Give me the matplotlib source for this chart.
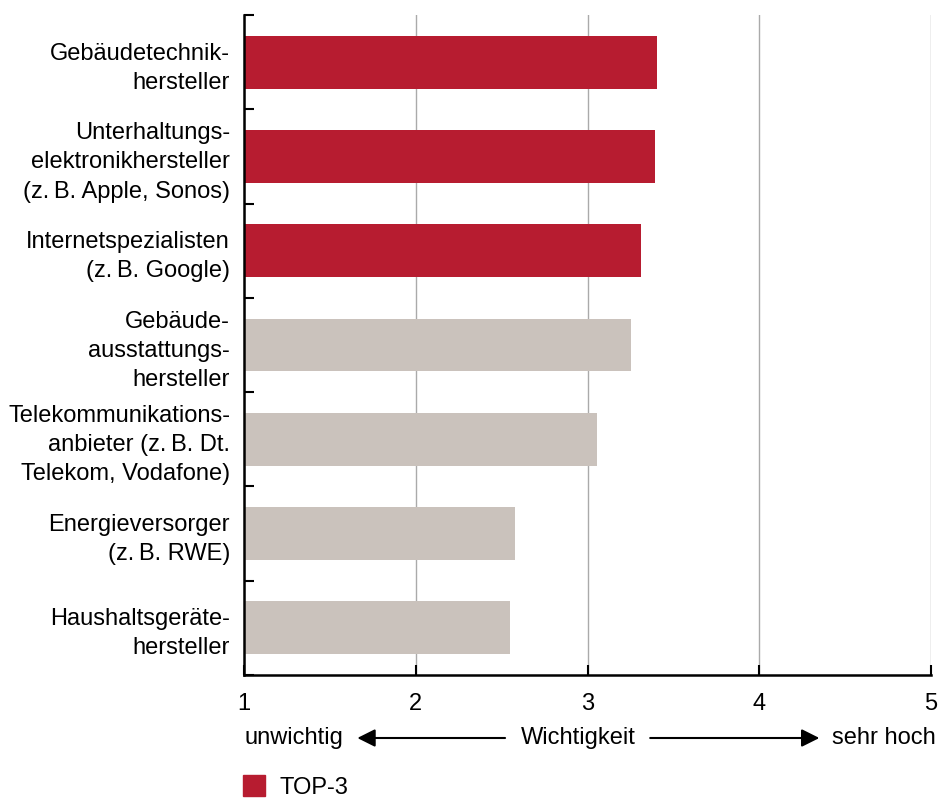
import matplotlib
matplotlib.use("Agg")
import matplotlib.pyplot as plt
from matplotlib.patches import Patch

plt.rcParams['font.family'] = ['Liberation Sans', 'DejaVu Sans']

# Anbieter (von oben nach unten)
categories = [
    "Gebäudetechnik-\nhersteller",
    "Unterhaltungs-\nelektronikhersteller\n(z.\u2009B. Apple, Sonos)",
    "Internetspezialisten\n(z.\u2009B. Google)",
    "Gebäude-\nausstattungs-\nhersteller",
    "Telekommunikations-\nanbieter (z.\u2009B. Dt.\nTelekom, Vodafone)",
    "Energieversorger\n(z.\u2009B. RWE)",
    "Haushaltsgeräte-\nhersteller",
]
values = [3.405, 3.395, 3.31, 3.255, 3.055, 2.58, 2.55]
top3 = [True, True, True, False, False, False, False]
x_ticks = [1, 2, 3, 4, 5]

RED = "#b71c30"
GREY = "#cac2bc"
FS = 17

fig = plt.figure(figsize=(9.39, 7.99), dpi=100)
ax = fig.add_axes([244/939, 124/799, 687/939, 660/799])

ypos = list(range(len(categories)))
colors = [RED if t else GREY for t in top3]
# bars start at 1 (scale 1..5)
ax.barh(ypos, [v - 1 for v in values], left=1, height=0.56, color=colors, zorder=2)

ax.set_xlim(1, 5)
ax.set_ylim(len(categories) - 0.5, -0.5)

ax.set_xticks(x_ticks)
ax.set_xticklabels([str(t) for t in x_ticks], fontsize=FS)
ax.tick_params(axis='x', direction='in', length=7, width=1.5, pad=13)
ax.xaxis.grid(True, color="#aaaaaa", linewidth=1, zorder=0)

ax.set_yticks(ypos)
ax.set_yticklabels(categories, fontsize=FS, linespacing=1.42)
ax.tick_params(axis='y', which='major', length=0, pad=10)
ax.set_yticks([i - 0.5 for i in range(len(categories) + 1)], minor=True)
ax.tick_params(axis='y', which='minor', direction='in', length=7, width=1.5)

for s in ['top', 'right']:
    ax.spines[s].set_visible(False)
ax.spines['left'].set_linewidth(1.8)
ax.spines['bottom'].set_linewidth(1.8)
ax.set_axisbelow(True)

# scale caption with arrows
yrow = 61
ax.annotate("unwichtig", xy=(1, yrow), xycoords=('data', 'figure pixels'),
            ha='left', va='center', fontsize=FS)
ax.annotate("Wichtigkeit", xy=(2.945, yrow), xycoords=('data', 'figure pixels'),
            ha='center', va='center', fontsize=FS)
ax.annotate("sehr hoch", xy=(5.03, yrow), xycoords=('data', 'figure pixels'),
            ha='right', va='center', fontsize=FS, annotation_clip=False)
arrow = dict(arrowstyle='-|>', color='black', lw=1.5, mutation_scale=27, shrinkA=0, shrinkB=0)
ax.annotate("", xy=(1.66, yrow), xytext=(2.52, yrow),
            xycoords=('data', 'figure pixels'), textcoords=('data', 'figure pixels'),
            arrowprops=arrow, annotation_clip=False)
ax.annotate("", xy=(4.35, yrow), xytext=(3.365, yrow),
            xycoords=('data', 'figure pixels'), textcoords=('data', 'figure pixels'),
            arrowprops=arrow, annotation_clip=False)

fig.legend(handles=[Patch(color=RED, label="TOP-3")], loc='center left',
           bbox_to_anchor=(243/939, 12/799), frameon=False, fontsize=FS,
           handlelength=0.95, handleheight=0.95, handletextpad=0.6, borderpad=0,
           borderaxespad=0)

fig.savefig("out.png", dpi=100)
